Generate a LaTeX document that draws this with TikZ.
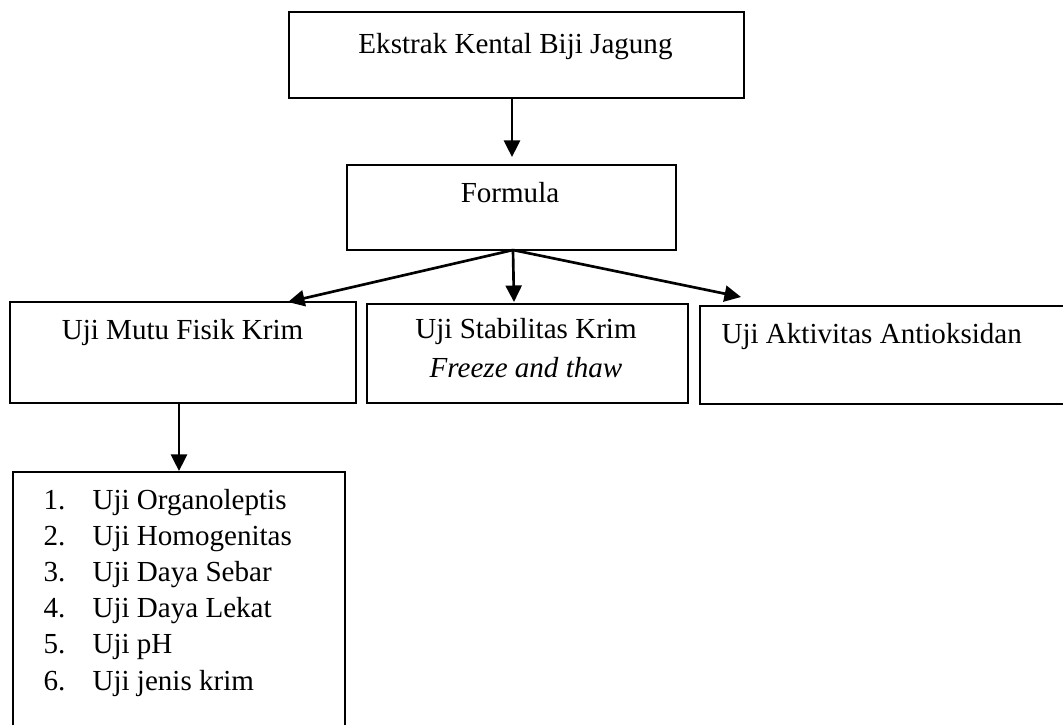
\documentclass[tikz,border=0pt]{standalone}
\usepackage{fontspec}
\setmainfont{Liberation Serif}
\usetikzlibrary{arrows.meta}
\begin{document}
\begin{tikzpicture}[x=0.375pt,y=-0.375pt,
  box/.style={draw=black,line width=0.5pt,inner sep=0pt},
  txt/.style={inner sep=0pt,font=\fontsize{10.9}{13.6}\selectfont},
  arr/.style={line width=1pt,-{Triangle[length=6.2pt,width=6pt]}}]
\useasboundingbox (0,0) rectangle (1063,724);
\clip (0,0) rectangle (1063,724);
% boxes
\node[box,minimum width=455*0.375pt,minimum height=86*0.375pt] (b1) at (516.5,55) {};
\node[box,minimum width=329*0.375pt,minimum height=85*0.375pt] (b2) at (511.5,207.5) {};
\node[box,minimum width=346*0.375pt,minimum height=101*0.375pt] (b3) at (183,352.5) {};
\node[box,minimum width=321*0.375pt,minimum height=99*0.375pt] (b4) at (527.5,353.5) {};
\node[box,minimum width=380*0.375pt,minimum height=98*0.375pt] (b5) at (890,355) {};
\node[box,minimum width=332*0.375pt,minimum height=280*0.375pt] (b6) at (179,612) {};
% texts
\node[txt,anchor=base] (t1) at (515.5,53) {Ekstrak Kental Biji Jagung};
\node[txt,anchor=base] (t2) at (510,202) {Formula};
\node[txt,anchor=base] (t3) at (182.5,339) {Uji Mutu Fisik Krim};
\node[txt,anchor=base] (t4) at (526,338) {Uji Stabilitas Krim};
\node[txt,anchor=base] (t4b) at (526,377) {\itshape Freeze and thaw};
\node[txt,anchor=base west] (t5) at (721,343) {Uji Aktivitas Antioksidan};
\foreach \i/\s in {1/Uji Organoleptis,2/Uji Homogenitas,3/Uji Daya Sebar,4/Uji Daya Lekat,5/Uji pH,6/Uji jenis krim}{
  \node[txt,anchor=base west] (n\i) at (43,{509+36.2*(\i-1)}) {\i.};
  \node[txt,anchor=base west] (l\i) at (92,{509+36.2*(\i-1)}) {\s};
}
% connectors
\coordinate (s1) at (512,98);
\coordinate (e1) at (512,157);
\coordinate (s2) at (513,250);
\coordinate (e3) at (288,302);
\coordinate (e4) at (514,302);
\coordinate (e5) at (741,297);
\coordinate (s6) at (179,403);
\coordinate (e6) at (179,471);
\draw[arr] (s1) -- (e1);
\draw[arr] (s2) -- (e3);
\draw[arr] (s2) -- (e4);
\draw[arr] (s2) -- (e5);
\draw[arr] (s6) -- (e6);
\end{tikzpicture}
\end{document}
